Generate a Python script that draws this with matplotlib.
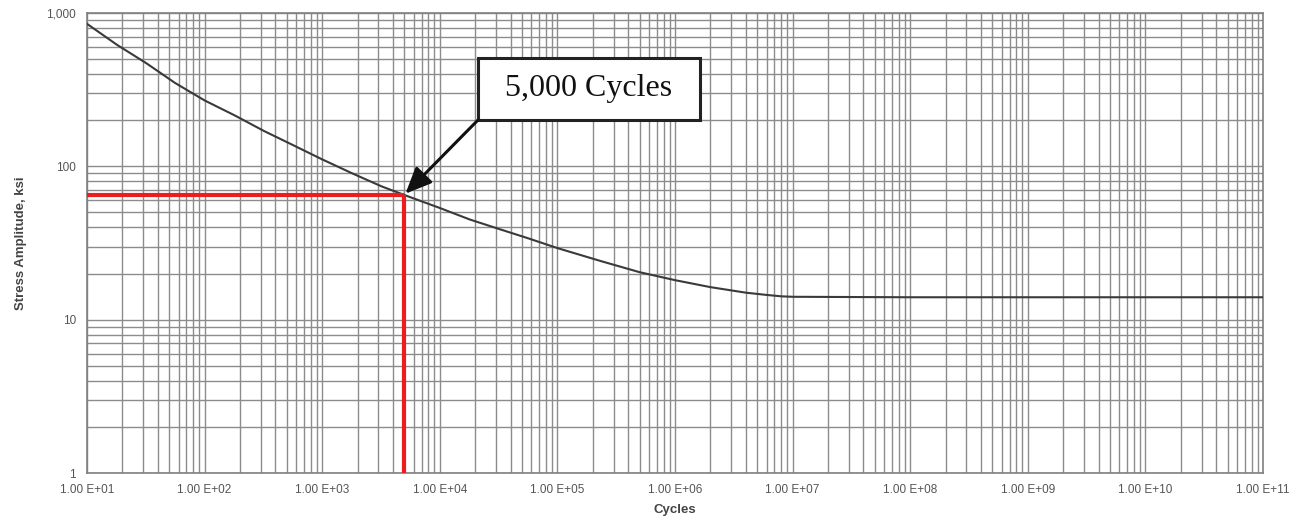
import matplotlib
matplotlib.use("Agg")
import matplotlib.pyplot as plt
import numpy as np
from matplotlib.patches import Rectangle
from matplotlib.ticker import LogLocator, FixedLocator, FixedFormatter, NullFormatter

# S-N curve data
cycles = [1e1, 1.8e1, 3.2e1, 5.6e1, 1.0e2, 1.8e2, 3.2e2, 5.6e2, 1e3, 1.8e3, 3.2e3, 5e3, 1e4,
          1.8e4, 3.2e4, 5.6e4, 1e5, 2.3e5, 5e5, 1e6, 2e6, 4e6, 6e6, 8e6, 1e7, 1e8, 1e9, 1e10, 1e11]
stress = [850, 620, 470, 350, 269, 215, 170, 138, 111, 90, 74, 65, 53.5,
          45, 39, 34, 29.3, 24.2, 20.4, 18.1, 16.3, 15.0, 14.5, 14.2, 14.1, 14.0, 14.0, 14.0, 14.0]

target_cycles = 5000
target_stress = 65

x_ticks = [1e1, 1e2, 1e3, 1e4, 1e5, 1e6, 1e7, 1e8, 1e9, 1e10, 1e11]
x_labels = ["1.00 E+01", "1.00 E+02", "1.00 E+03", "1.00 E+04", "1.00 E+05", "1.00 E+06",
            "1.00 E+07", "1.00 E+08", "1.00 E+09", "1.00 E+10", "1.00 E+11"]
y_ticks = [1, 10, 100, 1000]
y_labels = ["1", "10", "100", "1,000"]
callout_text = "5,000 Cycles"

fig = plt.figure(figsize=(13.04, 5.30), dpi=100)
ax = fig.add_axes([87/1304, 1 - 473/530, (1263 - 87)/1304, (473 - 13)/530])
ax.set_xscale("log")
ax.set_yscale("log")
ax.set_xlim(1e1, 1e11)
ax.set_ylim(1, 1000)

ax.xaxis.set_major_locator(FixedLocator(x_ticks))
ax.xaxis.set_major_formatter(FixedFormatter(x_labels))
ax.xaxis.set_minor_locator(LogLocator(base=10, subs=np.arange(2, 10), numticks=100))
ax.xaxis.set_minor_formatter(NullFormatter())
ax.yaxis.set_major_locator(FixedLocator(y_ticks))
ax.yaxis.set_major_formatter(FixedFormatter(y_labels))
ax.yaxis.set_minor_locator(LogLocator(base=10, subs=np.arange(2, 10), numticks=100))
ax.yaxis.set_minor_formatter(NullFormatter())

ax.grid(True, which="both", color="0.55", linewidth=1.0)
ax.set_axisbelow(True)
ax.tick_params(which="both", length=0, labelsize=8.5, labelcolor="#555555", pad=8)
for lab in ax.get_xticklabels() + ax.get_yticklabels():
    lab.set_family("Liberation Sans")
for s in ax.spines.values():
    s.set_color("0.5")
    s.set_linewidth(1.2)

ax.plot(cycles, stress, color="#3a3a3a", linewidth=1.5, zorder=3)

ax.plot([1e1, target_cycles], [target_stress, target_stress], color="#ee1c1c", linewidth=3, zorder=4, solid_capstyle="butt")
ax.plot([target_cycles, target_cycles], [target_stress, 1], color="#ee1c1c", linewidth=3, zorder=4, solid_capstyle="butt")

# callout box (axes-fraction coordinates)
bx0, by0, bw, bh = 0.3325, 0.7674, 0.1888, 0.1348
ax.add_patch(Rectangle((bx0, by0), bw, bh, transform=ax.transAxes, facecolor="white",
                       edgecolor="#222222", linewidth=2.2, zorder=6))
ax.text(bx0 + bw / 2, by0 + bh / 2, callout_text, transform=ax.transAxes, ha="center", va="center",
        fontsize=23, family="Liberation Serif", color="#111111", zorder=7)
ax.annotate("", xy=(target_cycles * 1.02, target_stress * 1.02), xytext=(bx0, by0),
            textcoords="axes fraction",
            arrowprops=dict(arrowstyle="-|>,head_length=0.8,head_width=0.35", color="#111111", lw=2.2,
                            shrinkA=0, shrinkB=0, mutation_scale=20),
            zorder=6)

ax.set_xlabel("Cycles", fontsize=9.5, fontweight="bold", color="#444444", family="Liberation Sans", labelpad=6)
ax.set_ylabel("Stress Amplitude, ksi", fontsize=9.5, fontweight="bold", color="#444444", family="Liberation Sans", labelpad=14)

fig.savefig("out.png", dpi=100, facecolor="white")
